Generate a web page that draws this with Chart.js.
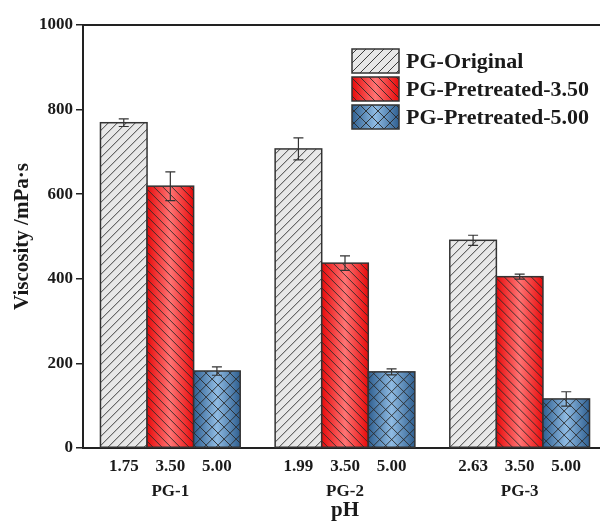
<!DOCTYPE html>
<html>
<head>
<meta charset="utf-8">
<script src="https://cdn.jsdelivr.net/npm/chart.js@4.4.0/dist/chart.umd.min.js"></script>
<style>
  html, body { margin: 0; padding: 0; background: #fff; overflow: hidden; }
  #wrap { position: absolute; left: 0; top: 0; width: 607px; height: 523px; }
</style>
</head>
<body>
<div id="wrap"><canvas id="chart"></canvas></div>
<script>
const groups = ['PG-1', 'PG-2', 'PG-3'];
const phLabels = [['1.75', '3.50', '5.00'], ['1.99', '3.50', '5.00'], ['2.63', '3.50', '5.00']];
const seriesNames = ['PG-Original', 'PG-Pretreated-3.50', 'PG-Pretreated-5.00'];
const original = [769, 707, 491];
const pretreated350 = [619, 437, 405];
const pretreated500 = [182, 180, 116];
const errOriginal = [9, 26, 12];
const errPre350 = [34, 17, 6];
const errPre500 = [10, 7, 17];

const FONT = "'Liberation Serif', 'Times New Roman', serif";
const INK = '#1a1a1a';
const errors = [errOriginal, errPre350, errPre500];

// fill, hatch and outline for one series swatch
function paintSwatch(ctx, kind, left, top, w, h) {
  ctx.save();
  ctx.beginPath();
  ctx.rect(left, top, w, h);
  ctx.clip();
  if (kind === 0) {
    ctx.fillStyle = '#e8e8e8';
  } else {
    const g = ctx.createLinearGradient(left, 0, left + w, 0);
    const edge = kind === 1 ? '#e80a0a' : '#2f5f90';
    const mid = kind === 1 ? '#ff7474' : '#8fbbe3';
    g.addColorStop(0, edge);
    g.addColorStop(0.5, mid);
    g.addColorStop(1, edge);
    ctx.fillStyle = g;
  }
  ctx.fillRect(left, top, w, h);

  ctx.strokeStyle = '#2a2a2a';
  ctx.lineWidth = 0.9;
  ctx.beginPath();
  const step = kind === 2 ? 12 : 9;
  const start = Math.floor((left - h) / step) * step;
  for (let k = start; k < left + w + h; k += step) {
    if (kind === 0 || kind === 2) {
      ctx.moveTo(k, top + h);
      ctx.lineTo(k + h, top);
    }
    if (kind === 1 || kind === 2) {
      ctx.moveTo(k, top);
      ctx.lineTo(k + h, top + h);
    }
  }
  ctx.stroke();
  ctx.restore();

  ctx.strokeStyle = '#333';
  ctx.lineWidth = 1.5;
  ctx.strokeRect(left, top, w, h);
}

const barDecor = {
  id: 'barDecor',
  afterDatasetsDraw(chart) {
    const { ctx, scales, chartArea } = chart;
    chart.data.datasets.forEach((ds, i) => {
      const meta = chart.getDatasetMeta(i);
      meta.data.forEach((bar, j) => {
        const { x, y, base, width } = bar.getProps(['x', 'y', 'base', 'width'], true);
        paintSwatch(ctx, i, x - width / 2, y, width, base - y);

        // error bar
        const v = ds.data[j], e = errors[i][j];
        const yHi = scales.y.getPixelForValue(v + e);
        const yLo = scales.y.getPixelForValue(v - e);
        ctx.save();
        ctx.strokeStyle = '#333';
        ctx.lineWidth = 1.2;
        ctx.beginPath();
        ctx.moveTo(x, yHi); ctx.lineTo(x, yLo);
        ctx.moveTo(x - 5, yHi); ctx.lineTo(x + 5, yHi);
        ctx.moveTo(x - 5, yLo); ctx.lineTo(x + 5, yLo);
        ctx.stroke();
        ctx.restore();

        // pH value under each bar
        ctx.save();
        ctx.fillStyle = INK;
        ctx.font = 'bold 17px ' + FONT;
        ctx.textAlign = 'center';
        ctx.textBaseline = 'middle';
        ctx.fillText(phLabels[j][i], x, chartArea.bottom + 19);
        ctx.restore();
      });
    });

    // top frame line
    ctx.save();
    ctx.strokeStyle = '#222';
    ctx.lineWidth = 2;
    ctx.beginPath();
    ctx.moveTo(chartArea.left, chartArea.top);
    ctx.lineTo(chart.width, chartArea.top);
    ctx.stroke();
    ctx.restore();

    // legend
    const lx = 352, ly = 49, bw = 47, bh = 24, pitch = 28;
    seriesNames.forEach((name, i) => {
      const top = ly + i * pitch;
      paintSwatch(ctx, i, lx, top, bw, bh);
      ctx.save();
      ctx.fillStyle = INK;
      ctx.font = 'bold 22px ' + FONT;
      ctx.textBaseline = 'middle';
      ctx.fillText(name, lx + bw + 7, top + bh / 2 + 1);
      ctx.restore();
    });
  }
};

new Chart(document.getElementById('chart'), {
  type: 'bar',
  data: {
    labels: groups,
    datasets: [
      { label: seriesNames[0], data: original, backgroundColor: '#e8e8e8' },
      { label: seriesNames[1], data: pretreated350, backgroundColor: '#ff5050' },
      { label: seriesNames[2], data: pretreated500, backgroundColor: '#6f9ccb' }
    ]
  },
  options: {
    responsive: true,
    maintainAspectRatio: false,
    animation: false,
    categoryPercentage: 0.8,
    barPercentage: 1.0,
    layout: { padding: { top: 25, right: 0, left: 0, bottom: 0 } },
    plugins: {
      legend: { display: false },
      tooltip: { enabled: false }
    },
    scales: {
      x: {
        grid: { display: false, drawTicks: false },
        border: { color: '#222', width: 2 },
        ticks: { color: INK, padding: 33, font: { family: FONT, size: 17, weight: 'bold' } },
        title: { display: true, text: 'pH', color: INK, padding: 0, font: { family: FONT, size: 21, weight: 'bold' } },
        afterFit(s) { s.height = 75; }
      },
      y: {
        min: 0,
        max: 1000,
        ticks: { stepSize: 200, color: INK, padding: 3, font: { family: FONT, size: 17, weight: 'bold' }, callback: v => String(v) },
        grid: { drawOnChartArea: false, tickLength: 7, color: '#222', lineWidth: 1.5 },
        border: { color: '#222', width: 2 },
        title: { display: true, text: 'Viscosity /mPa·s', color: INK, padding: { top: 10, bottom: 0 }, font: { family: FONT, size: 21, weight: 'bold' } },
        afterFit(s) { s.width = 83; }
      }
    }
  },
  plugins: [barDecor]
});
</script>
</body>
</html>
